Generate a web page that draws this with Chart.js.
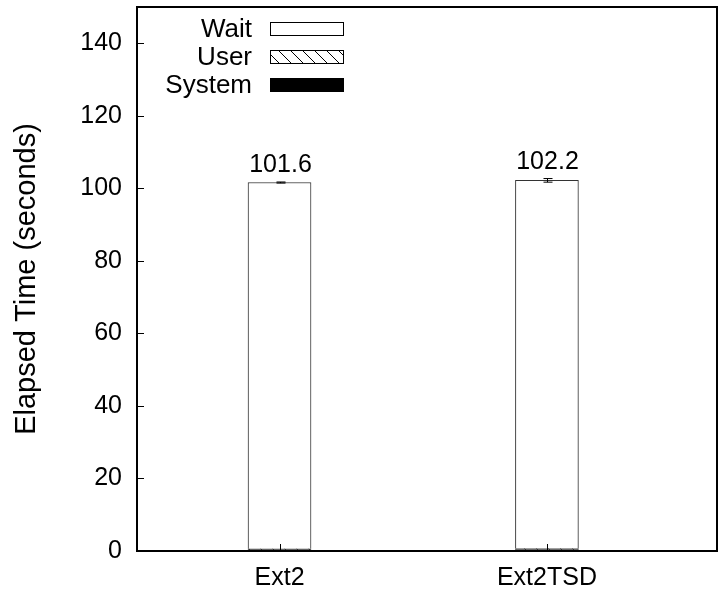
<!DOCTYPE html>
<html>
<head>
<meta charset="utf-8">
<script src="https://cdn.jsdelivr.net/npm/chart.js@4.4.1/dist/chart.umd.min.js"></script>
<style>
  html, body { margin: 0; padding: 0; background: #fff; }
  #wrap { width: 718px; height: 604px; }
</style>
</head>
<body>
<div id="wrap"><canvas id="c" width="718" height="604"></canvas></div>
<script>
// Elapsed time breakdown per file system (seconds)
const categories = ['Ext2', 'Ext2TSD'];
const systemTimes = [0.4, 0.4];
const userTimes = [0.2, 0.3];
const waitTimes = [101.0, 101.5];
const totalErrors = [0.15, 0.5];
const yTicks = [0, 20, 40, 60, 80, 100, 120, 140];

const FONT = '"Liberation Sans", Arial, Helvetica, sans-serif';
const FS = 25;

// diagonal hatch for the User segment
function makeHatch() {
  const s = 12;
  const pc = document.createElement('canvas');
  pc.width = s; pc.height = s;
  const g = pc.getContext('2d');
  g.fillStyle = '#fff';
  g.fillRect(0, 0, s, s);
  g.strokeStyle = '#000';
  g.lineWidth = 1;
  g.beginPath();
  g.moveTo(0, 0); g.lineTo(s, s);
  g.moveTo(-s, 0); g.lineTo(s, 2 * s);
  g.moveTo(0, -s); g.lineTo(2 * s, s);
  g.stroke();
  return g.createPattern(pc, 'repeat');
}
const hatch = makeHatch();

const toPoints = arr => arr.map((v, i) => ({ x: i, y: v }));

// frame, inward ticks, value labels, error bars and legend
const decorations = {
  id: 'decorations',
  afterDatasetsDraw(chart) {
    const ctx = chart.ctx;
    const a = chart.chartArea;
    const xs = chart.scales.x, ys = chart.scales.y;
    ctx.save();

    // inward tick marks
    ctx.strokeStyle = '#000';
    ctx.lineWidth = 1;
    ctx.beginPath();
    yTicks.forEach(v => {
      const y = Math.round(ys.getPixelForValue(v)) + 0.5;
      ctx.moveTo(a.left, y); ctx.lineTo(a.left + 7, y);
    });
    categories.forEach((c, i) => {
      const x = Math.round(xs.getPixelForValue(i)) + 0.5;
      ctx.moveTo(x, a.bottom); ctx.lineTo(x, a.bottom - 7);
    });
    ctx.stroke();

    // error bars and totals
    categories.forEach((c, i) => {
      const total = systemTimes[i] + userTimes[i] + waitTimes[i];
      const x = Math.round(xs.getPixelForValue(i)) + 0.5;
      const yHi = ys.getPixelForValue(total + totalErrors[i]);
      const yLo = ys.getPixelForValue(total - totalErrors[i]);
      ctx.strokeStyle = '#000';
      ctx.lineWidth = 1;
      ctx.beginPath();
      ctx.moveTo(x, yHi); ctx.lineTo(x, yLo);
      ctx.moveTo(x - 4, yHi); ctx.lineTo(x + 5, yHi);
      ctx.moveTo(x - 4, yLo); ctx.lineTo(x + 5, yLo);
      ctx.stroke();

      ctx.fillStyle = '#000';
      ctx.font = FS + 'px ' + FONT;
      ctx.textAlign = 'center';
      ctx.textBaseline = 'alphabetic';
      ctx.fillText(total.toFixed(1), x, ys.getPixelForValue(total) - 11);
    });

    // legend, text right-aligned with swatch to its right
    const entries = [
      { label: 'Wait', fill: '#fff' },
      { label: 'User', fill: hatch },
      { label: 'System', fill: '#000' }
    ];
    const rowY = [29, 57, 85];
    ctx.font = '26px ' + FONT;
    ctx.textAlign = 'right';
    ctx.textBaseline = 'middle';
    entries.forEach((e, k) => {
      const cy = rowY[k];
      ctx.fillStyle = '#000';
      ctx.fillText(e.label, 252, cy + 1);
      ctx.fillStyle = e.fill;
      ctx.fillRect(270.5, cy - 6.5, 73, 13);
      ctx.strokeStyle = '#000';
      ctx.lineWidth = 1;
      ctx.strokeRect(270.5, cy - 6.5, 73, 13);
    });

    // plot frame
    ctx.strokeStyle = '#000';
    ctx.lineWidth = 2;
    ctx.strokeRect(a.left, a.top, a.right - a.left, a.bottom - a.top);
    ctx.restore();
  }
};

new Chart(document.getElementById('c'), {
  type: 'bar',
  data: {
    datasets: [
      { label: 'System', data: toPoints(systemTimes), backgroundColor: '#000',
        borderColor: '#000', borderWidth: 1 },
      { label: 'User', data: toPoints(userTimes), backgroundColor: hatch,
        borderColor: '#333', borderWidth: 1 },
      { label: 'Wait', data: toPoints(waitTimes), backgroundColor: '#fff',
        borderColor: '#333', borderWidth: 1 }
    ]
  },
  options: {
    responsive: false,
    animation: false,
    devicePixelRatio: 1,
    barThickness: 63,
    layout: { padding: { left: 0, right: 1, top: 7, bottom: 0 } },
    plugins: {
      legend: { display: false },
      tooltip: { enabled: false }
    },
    scales: {
      x: {
        type: 'linear',
        stacked: true,
        offset: false,
        min: -0.533,
        max: 1.636,
        grid: { display: false, drawTicks: false, offset: false },
        border: { display: false },
        afterBuildTicks: s => { s.ticks = categories.map((c, i) => ({ value: i })); },
        afterFit: s => { s.height = 53; s.paddingLeft = 0; s.paddingRight = 0; },
        ticks: {
          color: '#000',
          font: { family: FONT, size: FS },
          padding: 12,
          maxRotation: 0,
          autoSkip: false,
          callback: v => categories[v]
        }
      },
      y: {
        stacked: true,
        min: 0,
        max: 150,
        grid: { display: false, drawTicks: false },
        border: { display: false },
        afterBuildTicks: s => { s.ticks = yTicks.map(v => ({ value: v })); },
        afterFit: s => { s.width = 137; s.paddingTop = 0; s.paddingBottom = 0; },
        title: {
          display: true,
          text: 'Elapsed Time (seconds)',
          color: '#000',
          font: { family: FONT, size: 29 },
          padding: { top: 10, bottom: 6 }
        },
        ticks: {
          color: '#000',
          font: { family: FONT, size: FS },
          padding: 15
        }
      }
    }
  },
  plugins: [decorations]
});
</script>
</body>
</html>
